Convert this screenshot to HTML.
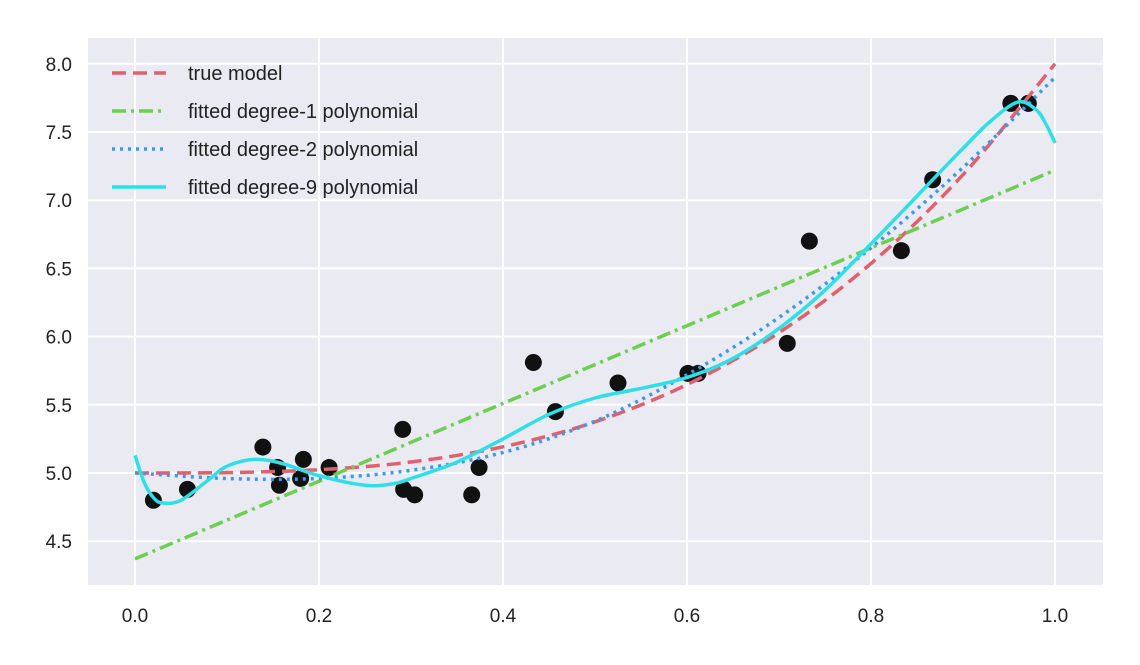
<!DOCTYPE html>
<html><head><meta charset="utf-8"><style>
html,body{margin:0;padding:0;background:#fff;}
svg{display:block;font-family:"Liberation Sans",sans-serif;}
</style></head><body>
<svg id="chart" width="1140" height="665"></svg>
<script>
const xTicks=[0,0.2,0.4,0.6,0.8,1.0];
const xTickLabels=["0.0","0.2","0.4","0.6","0.8","1.0"];
const yTicks=[4.5,5.0,5.5,6.0,6.5,7.0,7.5,8.0];
const yTickLabels=["4.5","5.0","5.5","6.0","6.5","7.0","7.5","8.0"];
const pointsX=[0.02,0.057,0.139,0.155,0.157,0.18,0.183,0.211,0.291,0.292,0.304,0.366,0.374,0.433,0.457,0.525,0.601,0.612,0.709,0.733,0.833,0.867,0.952,0.971];
const pointsY=[4.80,4.88,5.19,5.04,4.91,4.96,5.10,5.04,5.32,4.88,4.84,4.84,5.04,5.81,5.45,5.66,5.73,5.73,5.95,6.70,6.63,7.15,7.71,7.71];
const curveX=[0,0.1,0.2,0.3,0.4,0.5,0.6,0.7,0.8,0.9,1.0];
const trueY=[5.0,5.003,5.024,5.081,5.192,5.375,5.648,6.029,6.536,7.187,8.0];
const deg1Y=[4.37,4.655,4.94,5.225,5.51,5.795,6.08,6.365,6.65,6.935,7.22];
const deg2Y=[5.0,4.96,4.96,5.02,5.15,5.38,5.72,6.14,6.65,7.24,7.9];
const deg9X=[0,0.01,0.02,0.03,0.05,0.08,0.1,0.13,0.16,0.2,0.25,0.28,0.3,0.35,0.4,0.45,0.5,0.55,0.6,0.65,0.7,0.75,0.8,0.85,0.9,0.93,0.96,0.98,0.99,1.0];
const deg9Y=[5.13,4.93,4.82,4.78,4.8,4.95,5.05,5.1,5.07,4.98,4.91,4.92,4.96,5.08,5.25,5.43,5.55,5.62,5.7,5.84,6.06,6.34,6.68,7.03,7.38,7.58,7.72,7.66,7.56,7.42];

const NS="http://www.w3.org/2000/svg";
const svg=document.getElementById('chart');
const L=88,R=1103,T=38,B=585;
const sx=v=>135+v*920;
const sy=v=>473-(v-5)*136.4;
function mk(tag,attrs,parent){const e=document.createElementNS(NS,tag);for(const k in attrs)e.setAttribute(k,attrs[k]);(parent||svg).appendChild(e);return e;}

const bg=mk('rect',{x:L,y:T,width:R-L,height:B-T,fill:'#eaeaf2'});



xTicks.forEach((v,i)=>{
  const g=mk('line',{x1:sx(v),x2:sx(v),y1:T,y2:B,stroke:'#fff','stroke-width':2});
  
  
  const t=mk('text',{x:sx(v),y:622,'text-anchor':'middle','font-size':19,fill:'#222'});
  t.textContent=xTickLabels[i];
  
  
});
yTicks.forEach((v,i)=>{
  const g=mk('line',{x1:L,x2:R,y1:sy(v),y2:sy(v),stroke:'#fff','stroke-width':2});
  
  
  const t=mk('text',{x:72,y:sy(v)+7,'text-anchor':'end','font-size':19,fill:'#222'});
  t.textContent=yTickLabels[i];
  
  
});

pointsX.forEach((x,i)=>{
  const c=mk('circle',{cx:sx(x),cy:sy(pointsY[i]),r:8.5,fill:'#111'});
  
  
});

function path(xs,ys,color,dash,name){
  const P=xs.map((x,i)=>[sx(x),sy(ys[i])]);
  let d='M'+P[0][0].toFixed(1)+','+P[0][1].toFixed(1);
  for(let i=0;i<P.length-1;i++){
    const p0=P[Math.max(0,i-1)],p1=P[i],p2=P[i+1],p3=P[Math.min(P.length-1,i+2)];
    const c1=[p1[0]+(p2[0]-p0[0])/6,p1[1]+(p2[1]-p0[1])/6];
    const c2=[p2[0]-(p3[0]-p1[0])/6,p2[1]-(p3[1]-p1[1])/6];
    d+=' C'+c1.map(v=>v.toFixed(1)).join(',')+' '+c2.map(v=>v.toFixed(1)).join(',')+' '+p2.map(v=>v.toFixed(1)).join(',');
  }
  const p=mk('path',{d:d,fill:'none',stroke:color,'stroke-width':3.5,'stroke-dasharray':dash,'stroke-linejoin':'round'});
  
  
}
path(curveX,trueY,'#e0606e','14,7','true-model-line');
path(curveX,deg1Y,'#6bcf50','14,5,3,5','degree-1-line');
path(curveX,deg2Y,'#3a9ae8','3,5','degree-2-line');
path(deg9X,deg9Y,'#2ee0e6','none','degree-9-line');

const legend=[['true model','#e0606e','14,7'],['fitted degree-1 polynomial','#6bcf50','14,5,3,5'],['fitted degree-2 polynomial','#3a9ae8','3,5'],['fitted degree-9 polynomial','#2ee0e6','none']];
legend.forEach((e,i)=>{
  const y=73+i*38;
  const l=mk('line',{x1:112,x2:166,y1:y,y2:y,stroke:e[1],'stroke-width':3.5,'stroke-dasharray':e[2]});
  
  
  const t=mk('text',{x:188,y:y+7,'font-size':20,fill:'#222'});
  t.textContent=e[0];
  
  
});
</script>
</body></html>
